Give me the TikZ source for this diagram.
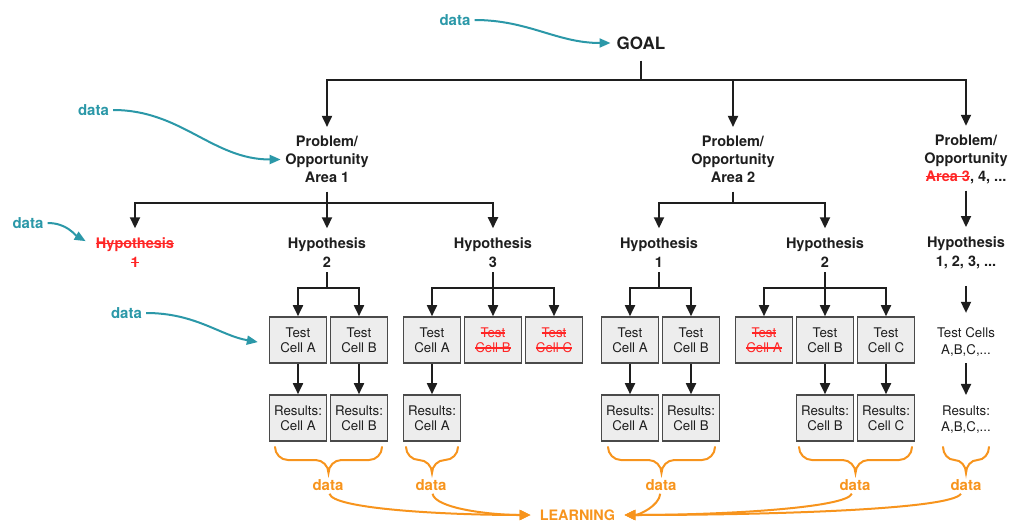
\documentclass[tikz,border=0pt]{standalone}
\usepackage{fontspec}
\setmainfont{TeX Gyre Heros}
\usetikzlibrary{arrows.meta}

\definecolor{inkblack}{HTML}{1E1E1E}
\definecolor{dataTeal}{HTML}{2B98A8}
\definecolor{dataOrange}{HTML}{F7941D}
\definecolor{cutRed}{HTML}{FF2626}
\definecolor{cellFill}{HTML}{EDEDED}
\definecolor{cellLine}{HTML}{4A4A4A}

\newcommand\fsz[2]{\fontsize{#1}{#2}\selectfont}
% red text with a line through it (dropped items)
\newcommand\strk[1]{{\color{cutRed}\setbox0\hbox{#1}\rlap{\copy0}\rule[0.28em]{\wd0}{0.1em}}}
% curly brace opening downward: left x, right x, top y
\newcommand\databrace[3]{%
  \pgfmathsetmacro\brMid{(#1+#2)/2}%
  \pgfmathsetmacro\brRad{min(13,(#2-#1)/4)}%
  \draw[brc] (#1,#3) .. controls (#1,{#3+7}) and ({#1+0.45*\brRad},{#3+13}) .. ({#1+\brRad},{#3+13})
    -- ({\brMid-\brRad},{#3+13}) .. controls ({\brMid-0.45*\brRad},{#3+13}) and (\brMid,{#3+19}) .. (\brMid,{#3+26})
    .. controls (\brMid,{#3+19}) and ({\brMid+0.45*\brRad},{#3+13}) .. ({\brMid+\brRad},{#3+13})
    -- ({#2-\brRad},{#3+13}) .. controls ({#2-0.45*\brRad},{#3+13}) and (#2,{#3+7}) .. (#2,#3);}

\tikzset{
  link/.style={draw=inkblack, line width=1.8pt},
  arr/.style={link, -{Triangle[length=11pt,width=10pt]}},
  lbl/.style={font=\bfseries\fsz{14.5}{18}, text=inkblack, align=center, inner sep=4.5pt},
  hyp/.style={lbl, font=\bfseries\fsz{14.5}{19}},
  cell/.style={draw=cellLine, line width=1.6pt, fill=cellFill, minimum width=57pt,
    minimum height=46pt, inner sep=0pt, align=center, font=\fsz{13.3}{15}, text=inkblack},
  note/.style={font=\fsz{13.3}{16.5}, text=inkblack, align=center, inner sep=4.5pt},
  tdata/.style={font=\bfseries\fsz{15}{18}, text=dataTeal, inner sep=4pt},
  odata/.style={font=\bfseries\fsz{15}{18}, text=dataOrange, inner sep=3pt},
  tarr/.style={draw=dataTeal, line width=2pt, -{Triangle[length=11pt,width=9pt]}},
  oarr/.style={draw=dataOrange, line width=2pt, -{Triangle[length=11pt,width=10pt]}},
  brc/.style={draw=dataOrange, line width=2pt, line cap=round},
}

\begin{document}
\begin{tikzpicture}[x=1pt,y=-1pt]
\useasboundingbox (0,0) rectangle (1010,522);

% ---- goal and problem areas
\node[lbl, font=\bfseries\fsz{17}{20}, inner xsep=6pt, inner ysep=11pt] (goal) at (641,43) {GOAL};
\node[tdata] (tdGoal) at (455,20) {data};
\node[lbl] (a1) at (327,159.5) {Problem/\\Opportunity\\Area 1};
\node[lbl] (a2) at (733,159.5) {Problem/\\Opportunity\\Area 2};
\node[lbl] (a3) at (966,159.5) {Problem/\\Opportunity\\\strk{Area 3}, 4, ...};
\node[tdata] (tdArea) at (93.5,110) {data};

% ---- hypotheses
\node[hyp] (h11) at (135,252.4) {\strk{Hypothesis}\\\strk{1}};
\node[hyp] (h12) at (327,252.4) {Hypothesis\\2};
\node[hyp] (h13) at (493,252.4) {Hypothesis\\3};
\node[hyp] (h21) at (659,252.4) {Hypothesis\\1};
\node[hyp] (h22) at (825,252.4) {Hypothesis\\2};
\node[hyp] (h3) at (966,252.4) {Hypothesis\\1, 2, 3, ...};
\node[tdata] (tdHyp) at (28,223) {data};

% ---- test cells
\node[cell] (c121) at (298,340) {Test\\Cell A};
\node[cell] (c122) at (359,340) {Test\\Cell B};
\node[cell] (c131) at (432,340) {Test\\Cell A};
\node[cell] (c132) at (493,340) {\strk{Test}\\\strk{Cell B}};
\node[cell] (c133) at (554,340) {\strk{Test}\\\strk{Cell C}};
\node[cell] (c211) at (630,340) {Test\\Cell A};
\node[cell] (c212) at (691,340) {Test\\Cell B};
\node[cell] (c221) at (764,340) {\strk{Test}\\\strk{Cell A}};
\node[cell] (c222) at (825,340) {Test\\Cell B};
\node[cell] (c223) at (886,340) {Test\\Cell C};
\node[note, font=\fsz{13.3}{17}] (t3) at (966,342.5) {Test Cells\\A,B,C,...};
\node[tdata] (tdCell) at (126.5,313) {data};

% ---- results
\node[cell] (r121) at (298,418) {Results:\\Cell A};
\node[cell] (r122) at (359,418) {Results:\\Cell B};
\node[cell] (r131) at (432,418) {Results:\\Cell A};
\node[cell] (r211) at (630,418) {Results:\\Cell A};
\node[cell] (r212) at (691,418) {Results:\\Cell B};
\node[cell] (r222) at (825,418) {Results:\\Cell B};
\node[cell] (r223) at (886,418) {Results:\\Cell C};
\node[note, font=\fsz{13.3}{16}] (r3) at (966,420) {Results:\\A,B,C,...};

% ---- tree connectors
\coordinate (gBar) at (641,80);
\draw[link] (goal) -- (gBar);
\draw[arr, shorten >=4.5pt] (gBar) -| (a1);
\draw[arr, shorten >=4.5pt] (gBar) -| (a2);
\draw[arr, shorten >=4.5pt] (gBar) -| (a3);

\coordinate (b1) at (327,203);
\draw[link, shorten <=4pt] (a1) -- (b1);
\draw[arr, shorten >=4.5pt] (b1) -| (h11);
\draw[arr, shorten >=4.5pt] (b1) -- (h12);
\draw[arr, shorten >=4.5pt] (b1) -| (h13);

\coordinate (b2) at (733,203);
\draw[link, shorten <=4pt] (a2) -- (b2);
\draw[arr, shorten >=4.5pt] (b2) -| (h21);
\draw[arr, shorten >=4.5pt] (b2) -| (h22);

\draw[arr, shorten <=2pt, shorten >=4.5pt] (a3) -- (h3);

\coordinate (k12) at (327,288);
\draw[link] (h12) -- (k12);
\draw[arr] (k12) -| (c121);
\draw[arr] (k12) -| (c122);

\coordinate (k13) at (493,288);
\draw[link] (h13) -- (k13);
\draw[arr] (k13) -| (c131);
\draw[arr] (k13) -- (c132);
\draw[arr] (k13) -| (c133);

\coordinate (k21) at (659,288);
\draw[link] (h21) -- (k21);
\draw[arr] (k21) -| (c211);
\draw[arr] (k21) -| (c212);

\coordinate (k22) at (825,288);
\draw[link] (h22) -- (k22);
\draw[arr] (k22) -| (c221);
\draw[arr] (k22) -- (c222);
\draw[arr] (k22) -| (c223);

\draw[arr, shorten <=12.5pt, shorten >=10.5pt] (h3) -- (t3);

\draw[arr] (c121) -- (r121);
\draw[arr] (c122) -- (r122);
\draw[arr] (c131) -- (r131);
\draw[arr] (c211) -- (r211);
\draw[arr] (c212) -- (r212);
\draw[arr] (c222) -- (r222);
\draw[arr] (c223) -- (r223);
\draw[arr, shorten <=1.5pt, shorten >=6.5pt] (t3) -- (r3);

% ---- incoming data
\draw[tarr] (tdGoal) to[out=0,in=180] (goal);
\draw[tarr] (tdArea) to[out=0,in=180] (a1);
\draw[tarr, shorten >=6.5pt] (tdHyp) to[out=0,in=150] ([yshift=8pt]h11.west);
\draw[tarr, shorten >=11pt] (tdCell) to[out=0,in=170] ([yshift=-4pt]c121.west);

% ---- results feed learning
\databrace{275}{382}{447}
\databrace{406}{458}{447}
\databrace{608}{715}{447}
\databrace{799}{912}{447}
\databrace{943}{989}{447}

\node[odata] (od1) at (328,485) {data};
\node[odata] (od2) at (431,485) {data};
\node[odata] (od3) at (661,485) {data};
\node[odata] (od4) at (855,485) {data};
\node[odata] (od5) at (966,485) {data};
\node[font=\bfseries\fsz{14.4}{17}, text=dataOrange, inner xsep=9pt] (learn) at (577.5,515) {LEARNING};

\draw[oarr] (od1) to[out=-80,in=180,out distance=15pt,in distance=90pt] (learn);
\draw[oarr] (od2) to[out=-80,in=180,out distance=15pt,in distance=40pt] (learn);
\draw[oarr] (od3) to[out=-95,in=0,out distance=12pt,in distance=15pt] (learn);
\draw[oarr] (od4) to[out=-110,in=0,out distance=15pt,in distance=100pt] (learn);
\draw[oarr] (od5) to[out=-120,in=0,out distance=18pt,in distance=150pt] (learn);
\end{tikzpicture}
\end{document}
